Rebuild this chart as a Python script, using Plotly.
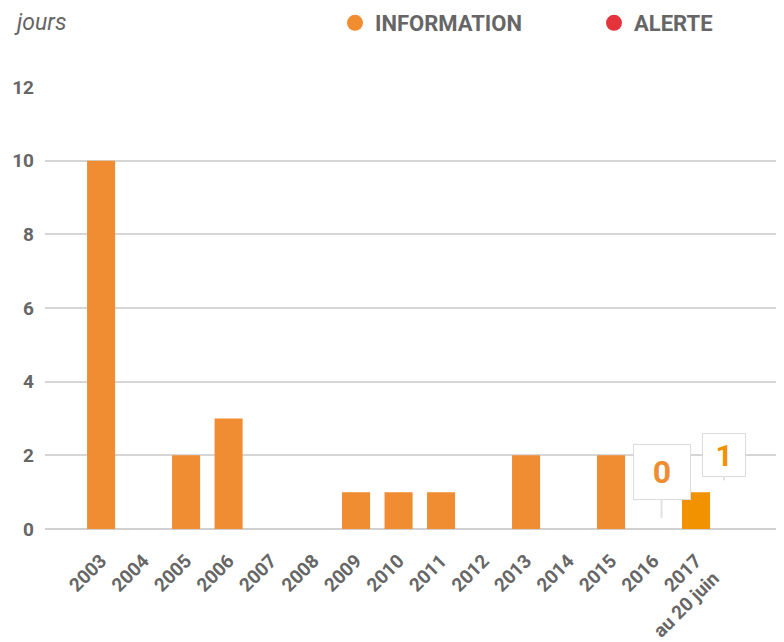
import plotly.graph_objects as go

years = ["2003", "2004", "2005", "2006", "2007", "2008", "2009", "2010",
         "2011", "2012", "2013", "2014", "2015", "2016", "2017<br>au 20 juin"]
information_days = [10, 0, 2, 3, 0, 0, 1, 1, 1, 0, 2, 0, 2, 0, 1]
alerte_days = [0] * 15
bar_colors = ["#F08C32"] * 14 + ["#F39200"]
callout_years = ["2016", "2017<br>au 20 juin"]
callout_values = [0, 1]

GRAY = "#666666"
FONT = "Roboto"
OFF = 8  # default page margin of the html body
W, H = 784 - OFF, 642 - OFF
L, T = 45 - OFF, 87 - OFF
B = H - (529 - OFF)
PW, PH = W - L, H - T - B

fig = go.Figure()
fig.add_trace(go.Bar(x=years, y=information_days, marker=dict(color=bar_colors, line=dict(width=0)),
                     showlegend=False, name="INFORMATION"))
fig.add_trace(go.Scatter(x=[None], y=[None], mode="markers", name="INFORMATION",
                         marker=dict(color="#F18C30", size=19, symbol="circle")))
fig.add_trace(go.Scatter(x=[None], y=[None], mode="markers", name="ALERTE",
                         marker=dict(color="#E5333B", size=19, symbol="circle")))

# callouts (bubble style)
callout_style = [
    dict(xshift=8, yshift=11, ay=-46, size=32, w=56, h=54, col="#F08C32"),
    dict(xshift=28, yshift=12, ay=-25, size=30, w=42, h=42, col="#F39200"),
]
for cy, cv, st in zip(callout_years, callout_values, callout_style):
    fig.add_annotation(x=years.index(cy), y=cv, xshift=st["xshift"], yshift=st["yshift"], ax=0, ay=st["ay"],
                       text="<b>%s</b>" % cv, showarrow=True, arrowhead=0, arrowwidth=2,
                       arrowcolor="#e2e2e2", font=dict(family=FONT, size=st["size"], color=st["col"]),
                       width=st["w"], height=st["h"], valign="middle",
                       bgcolor="white", bordercolor="#dcdcdc", borderwidth=1, borderpad=0)

fig.add_annotation(xref="paper", yref="paper", x=(12 - 45) / PW, y=1 + (87 - 22) / PH,
                   text="<i>jours</i>", showarrow=False, xanchor="left", yanchor="middle",
                   font=dict(family=FONT, size=23, color=GRAY))

fig.update_layout(
    width=W, height=H,
    margin=dict(l=L, r=0, t=T, b=B, autoexpand=False),
    paper_bgcolor="white", plot_bgcolor="white",
    bargap=0.34,
    font=dict(family=FONT, color=GRAY),
    legend=dict(orientation="h", x=(335 - 45) / PW, y=1 + (87 - 23) / PH, xanchor="left", yanchor="middle",
                font=dict(family=FONT, size=22, color=GRAY, weight="bold"), itemsizing="trace",
                itemwidth=30, entrywidth=214, entrywidthmode="pixels"),
    xaxis=dict(type="category", range=[-1.32, 16.07], tickangle=-45, showgrid=False,
               showline=False, ticks="", automargin=False, ticklabelstandoff=16,
               tickfont=dict(family=FONT, size=19, color=GRAY, weight="bold")),
    yaxis=dict(range=[-0.001, 12], dtick=2, showgrid=True, gridcolor="#d6d6d6", gridwidth=1.5,
               zeroline=True, zerolinecolor="#d0d0d0", zerolinewidth=1.5, showline=False,
               ticks="", ticklabelstandoff=10, automargin=False,
               tickfont=dict(family=FONT, size=19, color=GRAY, weight="bold")),
)
fig.write_html("out.html")
